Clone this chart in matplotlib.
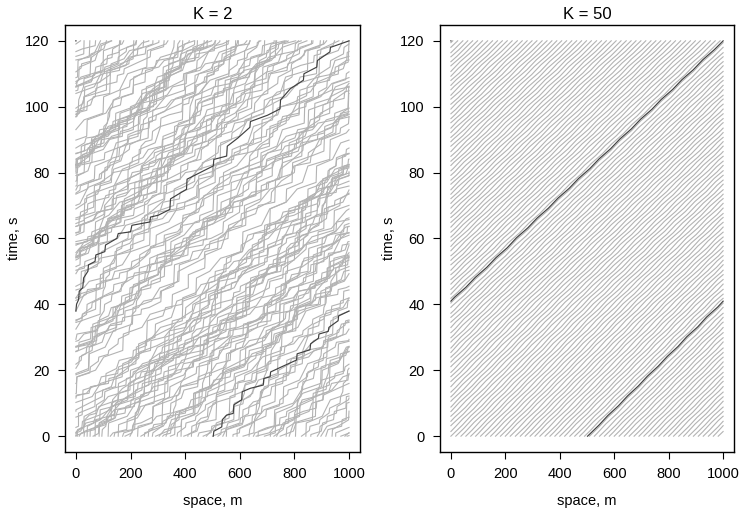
import numpy as np
import matplotlib
matplotlib.use("Agg")
import matplotlib.pyplot as plt

plt.rcParams['font.family'] = ['Liberation Sans', 'DejaVu Sans']

road_length = 1000   # ring road, m
t_end = 120          # s

# highlighted vehicle, K = 2 (space counted over laps, m / time, s)
k2_space = [503, 505, 534, 536, 552, 576, 578, 607, 609, 637, 686, 688, 711, 713, 741,
            808, 810, 857, 859, 888, 890, 924, 926, 960, 962, 1000, 1002, 1010, 1012, 1025,
            1028, 1044, 1046, 1070, 1073, 1106, 1108, 1150, 1155, 1200, 1205, 1271, 1273, 1300,
            1344, 1346, 1405, 1407, 1454,
            1503, 1505, 1552, 1554, 1589, 1637, 1639, 1699, 1747, 1749, 1784, 1833, 1835, 1882, 1884,
            1930, 1932, 2000]
k2_time = [0, 1.5, 2.8, 5, 6.4, 6.9, 9.5, 11, 13.5, 14.5, 15.5, 17.5, 18, 19.5, 20.6,
           23.1, 25, 26.2, 28, 29.7, 31, 31.8, 33, 35, 36.5, 38, 40, 41.4, 44, 45,
           48, 50, 52, 53, 55, 56, 58, 60, 61.5, 62, 64, 65, 66.5, 67,
           68.8, 72, 74.9, 78, 80,
           82, 84, 85, 88, 90.2, 93.7, 95.5, 97.3, 99.3, 102, 105.4, 108, 110, 112, 114,
           116.6, 118, 120]

# stop-and-go patterns of the grey K = 2 vehicles
k2_grey_a_space = [0, 0, 60, 62, 120, 140, 210, 212, 260, 300, 380, 382, 450, 480, 540, 542,
                   600, 620, 700, 702, 760, 800, 870, 872, 930, 960, 1030, 1032, 1100, 1130,
                   1200, 1202, 1270, 1300, 1380, 1382, 1440]
k2_grey_a_time = [0, 4, 6, 10, 12, 17, 19, 24, 26, 30, 32, 38, 40, 45, 47, 51,
                  53, 58, 60, 66, 68, 72, 74, 79, 81, 86, 88, 93, 95, 99,
                  101, 106, 108, 112, 114, 118, 120]
k2_grey_b_space = [0, 2, 40, 45, 85, 88, 130, 132, 180, 200, 250, 252, 290, 300, 350,
                   352, 400, 403, 460, 470, 530, 533, 580, 600, 650, 652, 700, 720, 780, 782,
                   830, 833, 890, 900, 960, 963, 1010, 1030, 1080, 1082, 1130, 1140, 1200, 1203, 1260,
                   1270, 1330, 1333, 1380, 1383, 1430, 1440, 1480, 1482, 1500]
k2_grey_b_time = [0, 2.5, 3.5, 6, 7, 9.5, 10.5, 14, 15, 17, 18, 21, 22.5, 25, 26,
                  28, 29.5, 37, 38.5, 41, 42, 44, 45.5, 48, 49, 52, 53, 55, 56, 58,
                  59.5, 66, 67.5, 70, 71, 73, 74.5, 77, 78, 80, 81.5, 84, 85, 92, 93.5,
                  96, 97, 99, 100.5, 107, 108.5, 111, 112, 116, 120]

# highlighted vehicle, K = 50
k50_space = [502, 540, 573, 613, 646, 686, 719, 759, 792, 832, 864, 905, 937, 978,
             1011, 1053, 1087, 1129, 1163, 1205, 1238, 1280, 1314, 1356, 1390, 1432,
             1466, 1508, 1542, 1584, 1618, 1660, 1694, 1736, 1770, 1812, 1846, 1888,
             1922, 1964, 2000]
k50_time = [0, 3, 6, 9, 12, 15, 18, 21, 24, 27, 30, 33, 36, 39,
            42, 45, 48, 51, 54, 57, 60, 63, 66, 69, 72, 75,
            78, 81, 84, 87, 90, 93, 96, 99, 102, 105, 108, 111,
            114, 117, 120]

# other vehicles: position at t = 0 and offset into the speed pattern (s)
k2_start = [0, 5, 12, 30, 41, 52, 63, 70, 85, 95, 118, 126, 140, 155, 171, 180, 198, 226, 238,
            251, 265, 280, 292, 305, 318, 330, 346, 371, 385, 395, 410, 423, 447, 466, 478,
            500, 520, 538, 551, 575, 590, 612, 634, 650, 660, 667, 690, 712, 725, 735, 748,
            770, 781, 804, 826, 842, 860, 884, 897, 915, 938, 951, 970, 985, 993]
k2_shift = [0, 8, 47, 94, 21, 35, 68, 115, 62, 42, 89, 16, 63, 89.5, 110, 37, 84, 11, 58,
            105, 26, 32, 79, 53, 6, 53, 100, 27, 74, 80, 1, 48, 95, 22, 69,
            107, 116, 43, 90, 17, 64, 111, 38, 85, 14, 12, 59, 106, 33, 41, 80,
            7, 54, 101, 28, 75, 2, 49, 96, 23, 70, 117, 44, 91, 18]
k50_start = [0, 18, 37, 55, 73, 91, 109, 127, 146, 164, 182, 200, 218, 237, 255, 273, 291, 309,
             327, 346, 364, 382, 400, 418, 437, 455, 473, 491, 509, 527, 546, 564, 582, 600,
             618, 637, 655, 673, 691, 709, 727, 746, 764, 782, 800, 818, 837, 855, 873, 891,
             909, 927, 946, 964, 982]
k50_shift = [0, 1, 2, 1.5, 0.5, 2.5, 1, 0, 2, 1.5, 0.5, 2.5, 1, 0, 2, 1.5, 0.5, 2.5, 1, 0,
             2, 1.5, 0.5, 2.5, 1, 0, 2, 1.5, 0.5, 2.5, 1, 0, 2, 1.5, 0.5, 2.5, 1, 0, 2, 1.5,
             0.5, 2.5, 1, 0, 2, 1.5, 0.5, 2.5, 1, 0, 2, 1.5, 0.5, 2.5, 1]


def track(space, time, x0, shift, dt=0.02):
    space = np.asarray(space, float)
    time = np.asarray(time, float)
    lap = space[-1] - space[0]
    t = np.arange(0, t_end + dt / 2, dt)
    tt = t + shift
    n = np.floor(tt / t_end)
    p = np.interp(tt - n * t_end, time, space) + n * lap
    x = (x0 + p - p[0]) % road_length
    jumps = np.where(np.diff(x) < -road_length / 2)[0]
    idx, xs, ts = [], [], []
    for j in jumps:
        idx += [j + 1] * 3
        xs += [road_length, np.nan, 0]
        ts += [t[j], np.nan, t[j]]
    return np.insert(x, idx, xs), np.insert(t, idx, ts)


fig = plt.figure(figsize=(7.4, 5.13), dpi=100)
ax1 = fig.add_axes([0.0878, 0.1189, 0.3986, 0.8324])
ax2 = fig.add_axes([0.5946, 0.1189, 0.3973, 0.8324])

k2_patterns = [(k2_space, k2_time), (k2_grey_a_space, k2_grey_a_time),
               (k2_grey_b_space, k2_grey_b_time)]
k50_patterns = [(k50_space, k50_time)]

panels = [(ax1, 'K = 2', k2_patterns, k2_start, k2_shift),
          (ax2, 'K = 50', k50_patterns, k50_start, k50_shift)]

for ax, title, patterns, starts, shifts in panels:
    for i, (x0, s) in enumerate(zip(starts, shifts)):
        sp, tm = patterns[i % len(patterns)]
        x, t = track(sp, tm, x0, s)
        ax.plot(x, t, color='#b3b3b3', lw=0.8)
    hl = patterns[0]
    x, t = track(hl[0], hl[1], hl[0][0] % road_length, 0)
    ax.plot(x, t, color='#404040', lw=0.85)

    ax.set_xlim(-40, 1040)
    ax.set_ylim(-4.8, 124.8)
    ax.set_xticks(range(0, 1001, 200))
    ax.set_yticks(range(0, 121, 20))
    ax.tick_params(direction='out', length=5, labelsize=10.5, pad=6)
    for spine in ax.spines.values():
        spine.set_linewidth(1.0)
    ax.set_title(title, fontsize=12, pad=4)
    ax.set_xlabel('space, m', fontsize=10.5, labelpad=9)
    ax.set_ylabel('time, s', fontsize=10.5, labelpad=3)

fig.savefig('out.png', dpi=100)
